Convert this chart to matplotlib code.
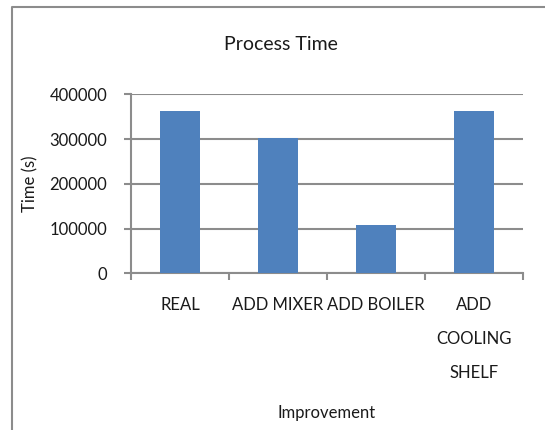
import matplotlib

matplotlib.use("Agg")

import matplotlib.pyplot as plt
from matplotlib.lines import Line2D
import numpy as np

categories = ["REAL", "ADD MIXER", "ADD BOILER", "ADD\nCOOLING\nSHELF"]
process_time = [362000, 302000, 108000, 362000]
y_ticks = [0, 100000, 200000, 300000, 400000]

BAR_COLOR = "#4f81bd"
GRID_COLOR = "#8c8c8c"
TEXT_COLOR = "#1a1a1a"

plt.rcParams["font.family"] = ["Lato", "DejaVu Sans"]

fig = plt.figure(figsize=(5.45, 4.3), dpi=100)
ax = fig.add_axes([131 / 545, 1 - 273.3 / 430, 392 / 545, 179 / 430])

x = np.arange(len(categories))
ax.bar(x, process_time, width=0.4, color=BAR_COLOR, zorder=3)

ax.set_xlim(-0.5, len(categories) - 0.5)
ax.set_ylim(0, 400000)
ax.set_yticks(y_ticks)
ax.set_yticklabels([str(v) for v in y_ticks])
ax.yaxis.grid(True, color=GRID_COLOR, linewidth=1.5, zorder=0)

# category labels sit between boundary tick marks
ax.set_xticks(x)
ax.set_xticklabels(categories, linespacing=2.38)
ax.set_xticks(np.arange(-0.5, len(categories)), minor=True)
ax.tick_params(axis="x", which="major", length=0, pad=17, labelsize=12, colors=TEXT_COLOR)
ax.tick_params(axis="x", which="minor", length=5, width=1.5, color=GRID_COLOR, direction="out")
ax.tick_params(axis="y", length=5, width=1.5, color=GRID_COLOR, pad=12, labelsize=12,
               labelcolor=TEXT_COLOR)

for side in ["top", "right"]:
    ax.spines[side].set_visible(False)
for side in ["left", "bottom"]:
    ax.spines[side].set_color(GRID_COLOR)
    ax.spines[side].set_linewidth(1.5)
ax.set_axisbelow(True)

ax.set_ylabel("Time (s)", fontsize=12, color=TEXT_COLOR, va="center")
ax.yaxis.set_label_coords((30 - 131) / 392, 0.5)
ax.set_xlabel("Improvement", fontsize=12, color=TEXT_COLOR, va="center")
ax.xaxis.set_label_coords(0.5, (273.3 - 413) / 179)

fig.text(281 / 545, 1 - 45 / 430, "Process Time", ha="center", va="center",
         fontsize=14, color=TEXT_COLOR)

# chart area frame, only the left and top edges fall inside the image
bx = 11.7 / 545
by = 1 - 6.7 / 430
fig.add_artist(Line2D([bx, bx, 1.0], [0.0, by, by], transform=fig.transFigure,
                      color=GRID_COLOR, linewidth=1.5))

fig.savefig("out.png", dpi=100)
